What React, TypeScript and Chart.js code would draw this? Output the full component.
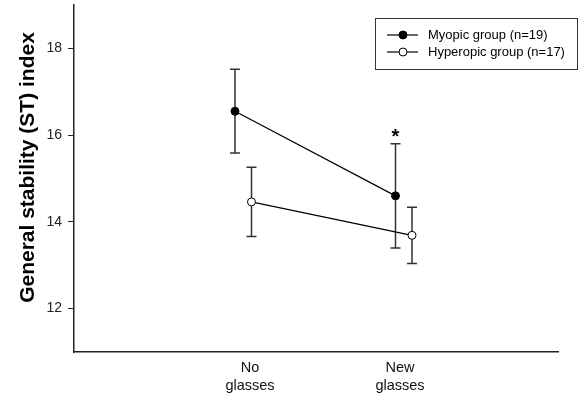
import React, { useEffect, useRef } from "react";
import { Chart, registerables } from "chart.js";

Chart.register(...registerables);

const categories = ["No glasses", "New glasses"];
const categoryPos = [1, 2];
const yTicks = [12, 14, 16, 18];

const myopicLabel = "Myopic group (n=19)";
const myopicX = [0.9, 1.97];
const myopicMean = [16.55, 14.6];
const myopicUpper = [17.52, 15.8];
const myopicLower = [15.59, 13.4];
const myopicMarks = ["", "*"];

const hyperLabel = "Hyperopic group (n=17)";
const hyperX = [1.01, 2.08];
const hyperMean = [14.46, 13.69];
const hyperUpper = [15.26, 14.34];
const hyperLower = [13.66, 13.04];

const yTitle = "General stability (ST) index";
const FONT = "'Liberation Sans', Arial, sans-serif";

const errorPlugin = {
  id: "errorBars",
  beforeDatasetsDraw(chart: any) {
    const { ctx, scales } = chart;
    const xs = scales.x;
    const ys = scales.y;
    ctx.save();
    ctx.strokeStyle = "#333";
    ctx.lineWidth = 1.5;
    chart.data.datasets.forEach((ds: any) => {
      ds.data.forEach((p: any, i: number) => {
        const px = xs.getPixelForValue(p.x);
        const top = ys.getPixelForValue(ds.upper[i]);
        const bot = ys.getPixelForValue(ds.lower[i]);
        ctx.beginPath();
        ctx.moveTo(px, top);
        ctx.lineTo(px, bot);
        ctx.moveTo(px - 5, top);
        ctx.lineTo(px + 5, top);
        ctx.moveTo(px - 5, bot);
        ctx.lineTo(px + 5, bot);
        ctx.stroke();
      });
    });
    ctx.restore();
  },
  afterDraw(chart: any) {
    const { ctx, scales, chartArea } = chart;
    const xs = scales.x;
    const ys = scales.y;
    ctx.save();
    // significance marks
    ctx.fillStyle = "#000";
    ctx.font = `bold 20px ${FONT}`;
    ctx.textAlign = "center";
    ctx.textBaseline = "alphabetic";
    chart.data.datasets.forEach((ds: any) => {
      (ds.marks || []).forEach((m: string, i: number) => {
        if (!m) return;
        const px = xs.getPixelForValue(ds.data[i].x);
        const top = ys.getPixelForValue(ds.upper[i]);
        ctx.fillText(m, px, top - 1);
      });
    });
    // y title
    ctx.save();
    ctx.translate(28, (chartArea.top + chartArea.bottom) / 2 - 11);
    ctx.rotate(-Math.PI / 2);
    ctx.font = `bold 21px ${FONT}`;
    ctx.textAlign = "center";
    ctx.textBaseline = "middle";
    ctx.fillText(yTitle, 0, 0);
    ctx.restore();
    // legend
    const bx = chartArea.right - 183;
    const by = chartArea.top + 13;
    const bw = 202;
    const bh = 51;
    ctx.fillStyle = "#fff";
    ctx.fillRect(bx, by, bw, bh);
    ctx.strokeStyle = "#333";
    ctx.lineWidth = 1;
    ctx.strokeRect(bx + 0.5, by + 0.5, bw, bh);
    chart.data.datasets.forEach((ds: any, i: number) => {
      const cy = by + 17 + i * 17;
      ctx.strokeStyle = "#000";
      ctx.lineWidth = 1.2;
      ctx.beginPath();
      ctx.moveTo(bx + 12, cy);
      ctx.lineTo(bx + 43, cy);
      ctx.stroke();
      ctx.beginPath();
      ctx.arc(bx + 28, cy, 4, 0, Math.PI * 2);
      ctx.fillStyle = ds.pointBackgroundColor;
      ctx.fill();
      ctx.lineWidth = 1;
      ctx.stroke();
      ctx.fillStyle = "#000";
      ctx.font = `13px ${FONT}`;
      ctx.textAlign = "left";
      ctx.textBaseline = "middle";
      ctx.fillText(ds.label, bx + 53, cy);
    });
    ctx.restore();
  },
};

export default function App() {
  const ref = useRef<HTMLCanvasElement>(null);
  useEffect(() => {
    if (!ref.current) return;
    const chart = new Chart(ref.current, {
      type: "scatter",
      data: {
        datasets: [
          {
            label: myopicLabel,
            data: myopicX.map((x, i) => ({ x, y: myopicMean[i] })),
            upper: myopicUpper,
            lower: myopicLower,
            marks: myopicMarks,
            showLine: true,
            borderColor: "#000",
            borderWidth: 1.2,
            pointRadius: 4,
            pointBorderWidth: 1,
            pointBackgroundColor: "#000",
            pointBorderColor: "#000",
          } as any,
          {
            label: hyperLabel,
            data: hyperX.map((x, i) => ({ x, y: hyperMean[i] })),
            upper: hyperUpper,
            lower: hyperLower,
            showLine: true,
            borderColor: "#000",
            borderWidth: 1.2,
            pointRadius: 4,
            pointBorderWidth: 1,
            pointBackgroundColor: "#fff",
            pointBorderColor: "#000",
          } as any,
        ],
      },
      options: {
        animation: false,
        responsive: true,
        maintainAspectRatio: false,
        layout: { padding: { top: 5, right: 22, left: 0, bottom: 0 } },
        plugins: { legend: { display: false }, tooltip: { enabled: false } },
        scales: {
          x: {
            type: "linear",
            min: -0.1733,
            max: 3.0533,
            afterFit: (s: any) => {
              s.height = 44;
              s.paddingLeft = 0;
              s.paddingRight = 0;
            },
            afterBuildTicks: (s: any) => {
              s.ticks = categoryPos.map((v) => ({ value: v }));
            },
            grid: { display: true, drawOnChartArea: false, drawTicks: false },
            border: { color: "#222", width: 1.5 },
            ticks: {
              padding: 7,
              color: "#111",
              font: { family: FONT, size: 14.5, lineHeight: 1.25 },
              maxRotation: 0,
              autoSkip: false,
              callback: (v: any) => {
                const idx = categoryPos.indexOf(Number(v));
                return idx >= 0 ? categories[idx].split(" ") : "";
              },
            },
          },
          y: {
            min: 11,
            max: 19,
            afterFit: (s: any) => {
              s.width = 74;
              s.paddingTop = 0;
              s.paddingBottom = 0;
            },
            afterBuildTicks: (s: any) => {
              s.ticks = yTicks.map((v) => ({ value: v }));
            },
            grid: {
              display: true,
              drawOnChartArea: false,
              drawTicks: true,
              tickLength: 6,
              tickColor: "#222",
              tickWidth: 1,
            },
            border: { color: "#222", width: 1.5 },
            ticks: {
              padding: 6,
              color: "#222",
              font: { family: FONT, size: 14 },
            },
          },
        },
      },
      plugins: [errorPlugin],
    });
    return () => chart.destroy();
  }, []);
  return (
    <div style={{ position: "absolute", left: 0, top: 0, width: 580, height: 396 }}>
      <canvas ref={ref} />
    </div>
  );
}
